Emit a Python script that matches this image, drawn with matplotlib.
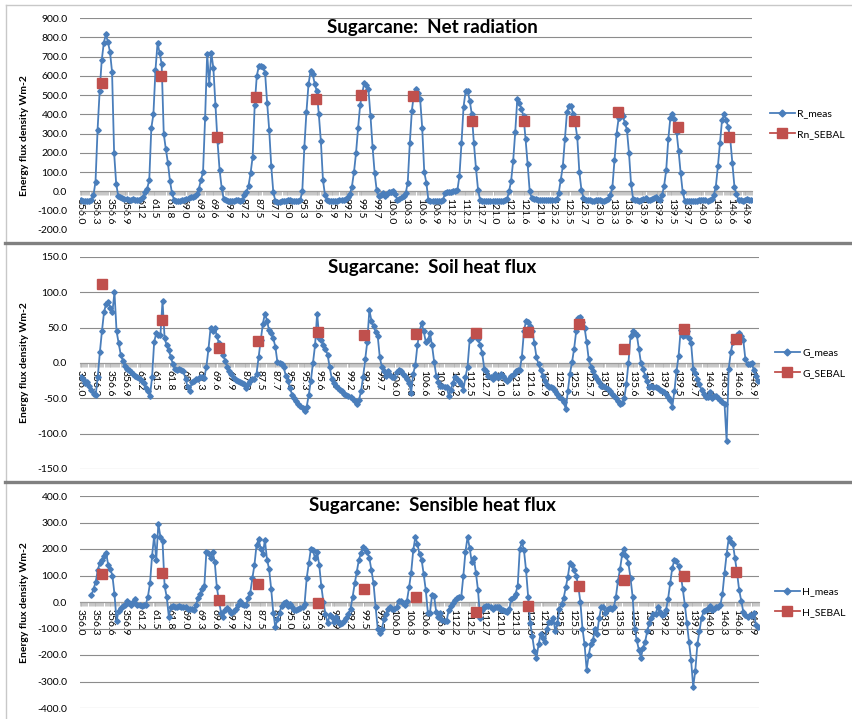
import numpy as np
import matplotlib.pyplot as plt
from matplotlib.lines import Line2D
from matplotlib.ticker import FormatStrFormatter

plt.rcParams['font.family'] = ['Lato', 'DejaVu Sans']

nan = np.nan

# day of year for each measured day (hourly values 0..24 h per day)
days = [356, 61, 69, 87, 95, 99, 106, 112, 121, 125, 135, 139, 146]
tick_labels = ['356.0', '356.3', '356.6', '356.9', '61.2', '61.5', '61.8',
               '69.0', '69.3', '69.6', '69.9', '87.2', '87.5', '87.7',
               '95.0', '95.3', '95.6', '95.9', '99.2', '99.5', '99.7',
               '106.0', '106.3', '106.6', '106.9', '112.2', '112.5', '112.7',
               '121.0', '121.3', '121.6', '121.9', '125.2', '125.5', '125.7',
               '135.0', '135.3', '135.6', '135.9', '139.2', '139.5', '139.7',
               '146.0', '146.3', '146.6', '146.9']

# hour of the SEBAL estimate on each day
sebal_hour = [10.1, 13.7, 15.9, 9.8, 13.4, 10.6, 10.5, 14.1, 14.0, 13.4, 9.7, 13.7, 13.6]

rn_meas = [
    [-45, -48, -50, -50, -48, -45, -20, 50, 320, 520, 680, 770, 815, 775, 725, 620, 200, 40, -25, -30, -35, -38, -40, -42, -45],
    [-40, -42, -42, -45, -40, -30, -5, 15, 60, 330, 400, 630, 770, 720, 660, 300, 220, 150, 55, -10, -45, -50, -50, -48, -45],
    [-45, -40, -35, -30, -28, -25, -15, 15, 60, 100, 380, 715, 560, 720, 640, 450, 260, 113, 20, -40, -45, -48, -48, -50, -50],
    [-45, -45, -48, -45, -20, -5, 30, 95, 180, 450, 600, 650, 650, 645, 617, 460, 320, 130, -5, -50, -55, -55, -52, -50, -50],
    [-45, -45, -48, -48, -50, -50, -45, 0, 230, 410, 555, 625, 610, 560, 520, 400, 260, 60, -20, -45, -50, -52, -50, -50, -48],
    [-45, -45, -42, -40, -30, -15, 25, 100, 200, 330, 450, 510, 565, 550, 530, 390, 230, 95, 5, -25, -20, -10, -25, -15, -5],
    [-5, 0, -15, -45, -40, -30, -25, -10, 45, 250, 420, 505, 530, 510, 480, 330, 100, 45, -45, -48, -50, -50, -50, -50, -48],
    [-45, -10, -5, -5, -3, 0, 0, 5, 80, 250, 440, 520, 520, 470, 400, 250, 120, 10, -45, -50, -52, -52, -50, -50, -48],
    [-50, -50, -50, -50, -50, -45, -40, 0, 55, 160, 310, 480, 460, 430, 390, 270, 140, 0, -35, -40, -40, -42, -45, -45, -45],
    [-45, -45, -45, -45, -42, -40, -10, 60, 130, 270, 410, 445, 445, 400, 355, 280, 100, 10, -35, -45, -45, -45, -48, -48, -45],
    [-45, -45, -48, -48, -45, -40, -20, 25, 165, 300, 380, 408, 392, 355, 320, 200, 40, -40, -45, -45, -48, -45, -40, -35, -45],
    [-45, -40, -35, -30, -40, -45, -20, 30, 110, 270, 380, 400, 375, 310, 210, 95, -5, -48, -50, -50, -52, -52, -50, -48, -45],
    [-45, -45, -45, -48, -45, -40, -20, 25, 130, 250, 370, 400, 370, 335, 270, 150, 25, -15, -45, -45, -48, -45, -40, -42, -45],
]
rn_sebal = [565, 600, 280, 490, 482, 500, 495, 365, 365, 365, 410, 333, 283]

g_meas = [
    [-20, -22, -28, -27, -32, -38, -44, -45, -20, 15, 45, 72, 84, 86, 78, 72, 100, 45, 28, 12, 3, -4, -8, -10, -13],
    [-15, -18, -20, -23, -26, -29, -35, -40, -46, -20, 30, 42, 40, 40, 88, 35, 25, 18, 8, -2, -8, -10, -9, -10, -12],
    [-22, -34, -40, -27, -25, -23, -22, -20, -20, -21, -5, 20, 50, 45, 50, 38, 28, 22, 12, 3, -6, -12, -16, -21, -24],
    [-25, -27, -28, -30, -36, -30, -25, -23, -22, -15, 9, 32, 55, 70, 60, 46, 42, 35, 23, 1, 0, -2, -6, -18, -25],
    [-35, -45, -50, -54, -58, -61, -64, -68, -62, -45, -25, 0, 25, 70, 36, 32, 26, 20, 12, -6, -22, -29, -32, -35, -38],
    [-40, -44, -45, -47, -48, -51, -54, -58, -53, -40, -20, 5, 30, 75, 60, 52, 44, 38, 8, -6, -12, -18, -12, -17, -20],
    [-20, -13, -10, -12, -15, -18, -22, -28, -42, -15, -3, 25, 45, 56, 45, 30, 32, 42, 25, 2, -18, -27, -33, -33, -34],
    [-34, -46, -38, -28, -20, -22, -25, -30, -38, -20, -5, 32, 36, 39, 38, 34, 26, 14, -8, -12, -18, -20, -22, -16, -20],
    [-20, -15, -18, -22, -25, -22, -18, -15, -12, -10, -10, 9, 45, 60, 58, 53, 45, 28, 8, -2, -10, -18, -26, -31, -34],
    [-34, -36, -40, -44, -48, -51, -55, -65, -40, -15, 1, 20, 45, 63, 65, 58, 50, 30, 5, -5, -12, -18, -22, -27, -32],
    [-32, -34, -37, -40, -44, -46, -50, -54, -58, -57, -50, -30, 0, 38, 45, 43, 40, 20, 0, -8, -18, -26, -34, -32, -34],
    [-34, -36, -38, -40, -41, -44, -48, -53, -62, -40, -12, 10, 46, 38, 40, 45, 35, 28, -8, -14, -22, -30, -38, -44, -48],
    [-48, -41, -50, -46, -47, -49, -53, -55, -58, -110, -8, 15, 30, 37, 40, 42, 38, 32, 5, -1, -2, 0, -10, -18, -25],
]
g_sebal = [112, 61, 21, 31, 44, 40, 41, 42, 44, 55, 20, 48, 34]

h_meas = [
    [nan, nan, nan, nan, nan, 25, 50, 75, 120, 148, 158, 175, 185, 140, 125, 100, 30, -70, -35, -22, -15, -10, 5, -5, -10],
    [0, 12, -10, -12, -15, -12, -10, 20, 70, 175, 250, 160, 295, 245, 230, 60, 20, -55, -20, -15, -18, -20, -15, -20, -18],
    [-18, -25, -25, -28, -32, -10, 15, 32, 50, 60, 190, 185, 165, 190, 150, 55, 5, -40, -55, -30, -22, -32, -42, -35, -25],
    [-13, 5, -6, -12, -10, 15, 35, 90, 140, 215, 236, 200, 180, 235, 160, 125, 50, -40, -95, -65, -40, -15, -5, 0, -15],
    [-6, -20, -30, -30, -28, -22, -18, -6, 90, 146, 200, 195, 165, 188, 140, 60, 0, -45, -80, -50, -55, -75, -58, -70, -83],
    [-80, -72, -60, -45, -25, 20, 70, 115, 160, 185, 208, 200, 190, 165, 120, 70, -20, -100, -118, -100, -65, -45, -28, -20, -25],
    [-25, -18, 2, 5, -5, -10, 5, 55, 110, 195, 245, 220, 180, 160, 105, 45, -40, -40, 25, 22, -38, -55, -40, -68, -70],
    [-70, -30, -15, -5, 6, 15, 18, 20, 100, 190, 245, 205, 150, 165, 110, 45, -60, -30, -20, -15, -15, -20, -25, -18, -20],
    [-20, -32, -30, -35, -38, -25, 13, 20, 32, 60, 200, 225, 195, 120, 20, -80, -130, -185, -210, -160, -120, -135, -150, -100, -76],
    [-76, -60, -110, -80, -25, -8, 15, 55, 95, 148, 140, 120, 100, 60, 0, -100, -160, -255, -200, -160, -145, -100, -120, -60, -20],
    [-19, -40, -28, -22, -25, -20, 19, 80, 125, 180, 200, 175, 146, 90, 20, -100, -145, -180, -210, -172, -150, -110, -80, -60, -45],
    [-45, -20, -38, -48, -45, -30, 13, 70, 130, 158, 155, 134, 105, 50, -10, -80, -150, -220, -320, -260, -160, -110, -60, -35, -30],
    [-25, -15, -30, -25, -20, -18, -12, 30, 110, 180, 240, 225, 220, 165, 110, 45, 5, -38, -48, -55, -48, -52, -40, -85, -96],
]
h_sebal = [106, 109, 8, 68, -4, 49, 19, -38, -15, 60, 83, 98, 113]

BLUE = '#4A7EBB'
RED = '#C0504D'
W, H = 853, 719

n_day = len(days)
n_hr = len(rn_meas[0])
x_meas = (np.arange(n_day)[:, None] + (np.arange(n_hr) + 0.5) / n_hr).ravel()
x_sebal = np.arange(n_day) + (np.array(sebal_hour) + 0.5) / n_hr
x_ticks = (14 * np.arange(len(tick_labels)) + 0.5) / 49

fig = plt.figure(figsize=(W / 100, H / 100), dpi=100)

panels = [
    # title, meas, sebal, labels, ylim, step, box (left, top, right, bottom px), legend (x, y px), ylabel centre px
    ('Sugarcane:  Net radiation', rn_meas, rn_sebal, ('R_meas', 'Rn_SEBAL'),
     (-200, 900), 100, (80, 18, 752, 230), (770, 124), 136),
    ('Sugarcane:  Soil heat flux', g_meas, g_sebal, ('G_meas', 'G_SEBAL'),
     (-150, 150), 50, (80, 257, 759, 469), (775, 363), 363),
    ('Sugarcane:  Sensible heat flux', h_meas, h_sebal, ('H_meas', 'H_SEBAL'),
     (-400, 400), 100, (80, 496, 759, 708), (775, 602), 603),
]

for title, meas, sebal, labs, ylim, step, box, leg, ylab_y in panels:
    l, t, r, b = box
    ax = fig.add_axes([l / W, 1 - b / H, (r - l) / W, (b - t) / H])
    ax.plot(x_meas, np.array(meas, dtype=float).ravel(), color=BLUE, lw=1.3,
            marker='D', ms=2.8, mec=BLUE, mfc=BLUE, zorder=3)
    ax.plot(x_sebal, sebal, ls='none', marker='s', ms=7, color=RED, zorder=4)

    ax.set_xlim(0, n_day)
    ax.set_ylim(*ylim)
    ax.set_yticks(np.arange(ylim[0], ylim[1] + 1, step))
    ax.yaxis.set_major_formatter(FormatStrFormatter('%.1f'))
    ax.grid(axis='y', color='#8c8c8c', lw=0.8)
    ax.set_axisbelow(True)

    for s in ('top', 'right', 'left'):
        ax.spines[s].set_visible(False)
    ax.spines['bottom'].set_position(('data', 0))
    ax.spines['bottom'].set_color('#9a9a9a')
    ax.spines['bottom'].set_zorder(2)

    ax.set_xticks(x_ticks)
    ax.set_xticklabels(tick_labels, rotation=-90, fontsize=7.5)
    ax.set_xticks(np.arange(n_day * 49 + 1) / 49, minor=True)
    ax.tick_params(axis='x', which='both', direction='out', length=3,
                   width=0.5, color='#b0b0b0', pad=2)
    ax.tick_params(axis='y', length=0, pad=9, labelsize=7.5)

    ax.set_ylabel('Energy flux density Wm-2', fontsize=7.5, fontweight='bold')
    ax.yaxis.set_label_coords(-(l - 29) / (r - l), (b - ylab_y) / (b - t))

    fig.text(432 / W, 1 - (t + 10) / H, title, ha='center', va='center',
             fontsize=13.5, fontweight='bold')

    handles = [Line2D([0], [0], color=BLUE, lw=1.3, marker='D', ms=3.5),
               Line2D([0], [0], color=RED, lw=1.3, marker='s', ms=7)]
    ax.legend(handles, labs, loc='center left', frameon=False, fontsize=7.5,
              bbox_to_anchor=(leg[0] / W, 1 - leg[1] / H),
              bbox_transform=fig.transFigure, handlelength=2.4,
              handletextpad=0.2, labelspacing=1.1, numpoints=1,
              borderaxespad=0, borderpad=0)

# chart borders
fig.add_artist(Line2D([6 / W, 1], [1 - 5 / H] * 2, color='#c8c8c8', lw=1))
fig.add_artist(Line2D([6 / W] * 2, [0, 1 - 5 / H], color='#c8c8c8', lw=1))
for yy in (243, 482):
    fig.add_artist(Line2D([5 / W, 1], [1 - yy / H] * 2, color='#808080', lw=2.4))

fig.savefig('out.png', dpi=100)
